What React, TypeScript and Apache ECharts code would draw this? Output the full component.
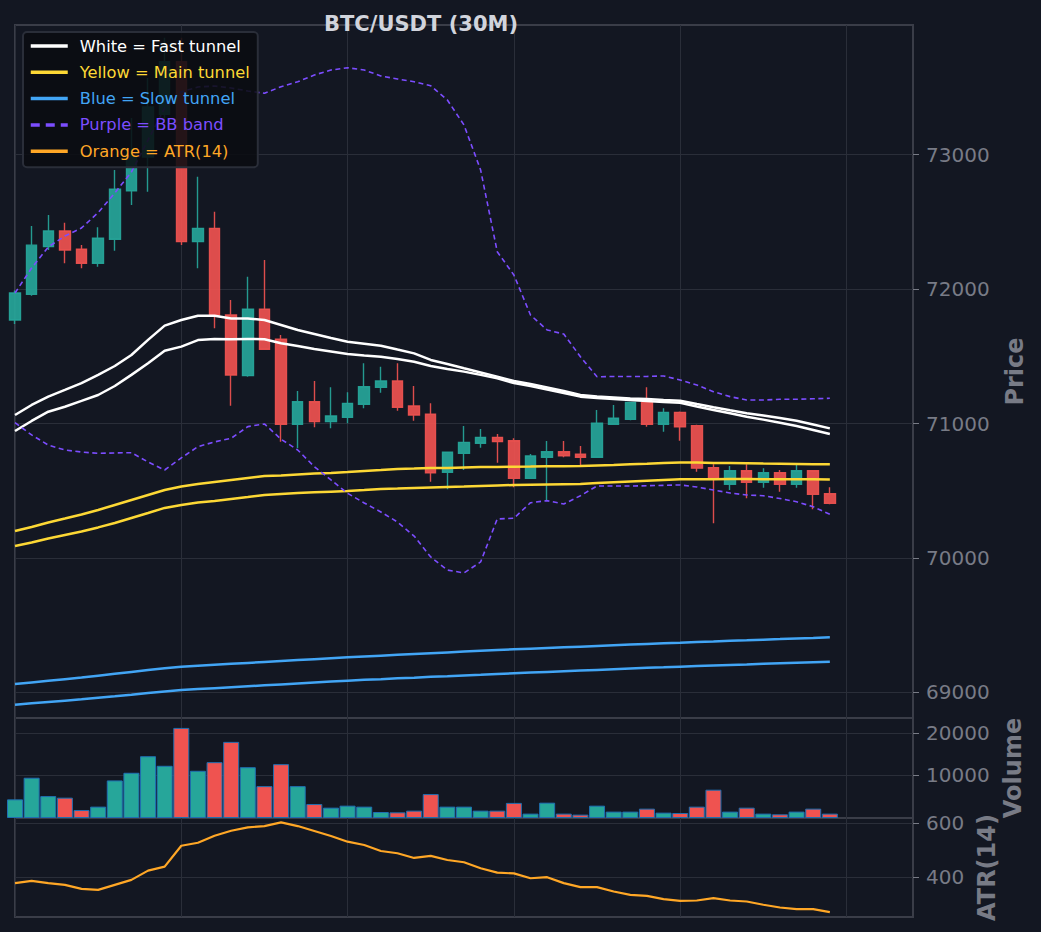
import { useEffect, useRef } from 'react';
import * as echarts from 'echarts';

// 30M candles, index 0..49 (five empty slots on the right)
const opens = [71770, 71961, 72316, 72432, 72296, 72192, 72371, 72732, 72983, 73300, 73692, 72353, 72452, 71807, 71356, 71850, 71627, 70994, 71162, 71014, 71046, 71143, 71269, 71316, 71130, 71069, 70637, 70778, 70853, 70897, 70872, 70592, 70749, 70790, 70771, 70749, 70994, 71031, 71157, 70994, 71083, 70984, 70672, 70548, 70649, 70563, 70634, 70548, 70649, 70478];
const closes = [71971, 72327, 72432, 72291, 72192, 72378, 72743, 72990, 73355, 73692, 72353, 72452, 71807, 71361, 71850, 71552, 70994, 71162, 71014, 71056, 71150, 71274, 71316, 71121, 71063, 70634, 70786, 70860, 70897, 70865, 70592, 70758, 70790, 70760, 70749, 71002, 71039, 71157, 70994, 71083, 70976, 70668, 70587, 70649, 70563, 70634, 70548, 70649, 70473, 70406];
const lows = [71740, 71950, 72291, 72192, 72155, 72167, 72286, 72626, 72725, 73250, 72328, 72155, 71708, 71133, 71348, 71547, 70865, 70816, 70972, 70964, 71002, 71113, 71229, 71095, 71021, 70567, 70511, 70654, 70820, 70709, 70525, 70590, 70426, 70749, 70692, 70745, 70990, 71025, 70976, 70939, 70872, 70642, 70258, 70505, 70444, 70522, 70493, 70522, 70362, 70400];
const highs = [71990, 72470, 72551, 72494, 72328, 72460, 72886, 73273, 73570, 73870, 73870, 72836, 72576, 71919, 72092, 72217, 71659, 71242, 71316, 71269, 71232, 71448, 71423, 71448, 71279, 71150, 70790, 70982, 70959, 70922, 70890, 70773, 70870, 70870, 70833, 71101, 71138, 71160, 71269, 71113, 71090, 70990, 70697, 70684, 70697, 70667, 70654, 70691, 70655, 70526];

const fastUpper = [71063, 71138, 71200, 71250, 71301, 71362, 71428, 71510, 71622, 71728, 71770, 71802, 71802, 71781, 71781, 71770, 71733, 71696, 71666, 71636, 71609, 71594, 71579, 71550, 71522, 71473, 71443, 71411, 71380, 71349, 71316, 71294, 71268, 71242, 71212, 71201, 71194, 71186, 71182, 71175, 71170, 71145, 71121, 71098, 71076, 71060, 71041, 71021, 70993, 70964];
const fastLower = [70944, 71019, 71088, 71125, 71168, 71212, 71279, 71362, 71448, 71542, 71572, 71621, 71629, 71627, 71629, 71627, 71597, 71577, 71554, 71536, 71517, 71506, 71497, 71480, 71460, 71428, 71406, 71386, 71362, 71336, 71301, 71279, 71253, 71227, 71200, 71190, 71183, 71175, 71168, 71160, 71155, 71127, 71101, 71076, 71051, 71029, 71006, 70982, 70952, 70922];
const mainUpper = [70200, 70230, 70264, 70293, 70323, 70357, 70394, 70431, 70468, 70505, 70531, 70550, 70565, 70580, 70595, 70610, 70613, 70621, 70628, 70632, 70639, 70647, 70654, 70662, 70665, 70669, 70669, 70673, 70676, 70676, 70679, 70680, 70682, 70682, 70684, 70688, 70691, 70697, 70701, 70706, 70710, 70710, 70706, 70706, 70704, 70702, 70701, 70699, 70697, 70697];
const mainLower = [70089, 70115, 70145, 70171, 70197, 70227, 70260, 70297, 70334, 70372, 70394, 70413, 70424, 70439, 70453, 70468, 70476, 70483, 70488, 70493, 70498, 70505, 70513, 70516, 70520, 70524, 70528, 70531, 70535, 70539, 70543, 70545, 70547, 70549, 70550, 70557, 70563, 70569, 70575, 70580, 70585, 70586, 70586, 70587, 70587, 70586, 70586, 70585, 70585, 70584];
const slowUpper = [69062, 69074, 69086, 69098, 69110, 69124, 69138, 69152, 69166, 69179, 69191, 69198, 69205, 69212, 69219, 69226, 69233, 69240, 69247, 69254, 69261, 69267, 69273, 69279, 69285, 69291, 69297, 69303, 69309, 69315, 69320, 69325, 69330, 69335, 69340, 69345, 69350, 69355, 69360, 69365, 69369, 69374, 69378, 69383, 69387, 69392, 69396, 69401, 69405, 69410];
const slowLower = [68908, 68918, 68928, 68938, 68948, 68960, 68970, 68982, 68995, 69007, 69017, 69024, 69031, 69038, 69045, 69052, 69059, 69066, 69073, 69080, 69087, 69093, 69098, 69104, 69109, 69115, 69120, 69126, 69131, 69137, 69142, 69147, 69152, 69157, 69162, 69167, 69172, 69177, 69182, 69186, 69191, 69195, 69199, 69203, 69207, 69212, 69216, 69220, 69224, 69228];
const bbUpper = [71971, 72157, 72313, 72395, 72455, 72569, 72715, 72871, 73109, 73347, 73467, 73504, 73511, 73496, 73474, 73457, 73506, 73543, 73593, 73630, 73647, 73630, 73586, 73563, 73543, 73513, 73407, 73221, 72886, 72278, 72105, 71807, 71696, 71666, 71497, 71348, 71350, 71350, 71350, 71354, 71324, 71287, 71237, 71200, 71175, 71175, 71180, 71180, 71184, 71188];
const bbLower = [71006, 70915, 70840, 70803, 70788, 70778, 70781, 70783, 70714, 70654, 70744, 70828, 70863, 70890, 70977, 70997, 70883, 70803, 70679, 70580, 70481, 70409, 70342, 70267, 70163, 70007, 69910, 69888, 69970, 70290, 70295, 70411, 70426, 70401, 70463, 70535, 70535, 70535, 70537, 70540, 70543, 70528, 70505, 70483, 70468, 70463, 70442, 70418, 70381, 70325];

const volumes = [4380, 9460, 5150, 4780, 1870, 2670, 8830, 10630, 14520, 12270, 21170, 11100, 13120, 17890, 11940, 7490, 12650, 7490, 3280, 2430, 2900, 2670, 1410, 1330, 1730, 5620, 2670, 2670, 1730, 1730, 3550, 1030, 3600, 1030, 800, 2900, 1500, 1500, 2200, 1260, 1170, 2670, 6650, 1500, 2430, 1030, 870, 1500, 2200, 1030];
const atr = [378, 386, 378, 371.5, 356.7, 353, 371.5, 390, 424.5, 439.3, 517, 528, 554, 572.6, 585, 590, 603.7, 590, 571.5, 553, 532, 519.6, 497.4, 488.9, 471.5, 479, 464, 455.5, 433.3, 417, 414, 396, 400, 377.8, 363, 363, 346.7, 334.4, 330.7, 318.5, 312.2, 313.3, 322, 313.3, 309.6, 297.4, 287.4, 281.4, 281.4, 270];

const priceTicks = [69000, 70000, 71000, 72000, 73000];
const volumeTicks = [10000, 20000];
const atrTicks = [400, 600];

const slotCount = 55;

const FONT = '"DejaVu Sans", sans-serif';
const UP = '#26a69a';
const DOWN = '#ef5350';
const GRID_LINE = '#2a2e39';
const SPINE = '#3a3d48';
const MUTED = '#787b86';

const LEGEND = [
  { name: 'White = Fast tunnel', color: '#ffffff' },
  { name: 'Yellow = Main tunnel', color: '#fdd835' },
  { name: 'Blue = Slow tunnel', color: '#42a5f5' },
  { name: 'Purple = BB band', color: '#7c4dff', dashed: true },
  { name: 'Orange = ATR(14)', color: '#ffa726' },
];

export default function App() {
  const chartRef = useRef<HTMLDivElement>(null);

  useEffect(() => {
    if (!chartRef.current) return;
    const chart = echarts.init(chartRef.current, undefined, { renderer: 'svg' });

    const slots = Array.from({ length: slotCount }, (_, i) => String(i));
    const candles = opens.map((o, i) => [o, closes[i], lows[i], highs[i]]);
    const volumeBars = volumes.map((v, i) => ({
      value: v,
      itemStyle: { color: closes[i] >= opens[i] ? UP : DOWN },
    }));

    const xAxis = (gridIndex: number) => ({
      type: 'category',
      gridIndex,
      data: slots,
      boundaryGap: false,
      axisLine: { show: false },
      axisTick: { show: false },
      axisLabel: { show: false },
      splitLine: {
        show: true,
        interval: (index: number) => index % 10 === 0,
        lineStyle: { color: GRID_LINE, width: 1 },
      },
    });

    const yAxis = (
      gridIndex: number,
      min: number,
      max: number,
      ticks: number[],
      name: string,
      nameGap: number,
    ) => ({
      type: 'value',
      gridIndex,
      position: 'right',
      min,
      max,
      axisLine: { show: false },
      axisTick: { show: true, length: 6, lineStyle: { color: MUTED }, customValues: ticks },
      axisLabel: {
        color: MUTED,
        fontSize: 20,
        fontFamily: FONT,
        margin: 13,
        customValues: ticks,
        formatter: (v: number) => String(v),
      },
      splitLine: { show: true, lineStyle: { color: GRID_LINE, width: 1 } },
      name,
      nameLocation: 'middle',
      nameRotate: 90,
      nameGap,
      nameTextStyle: { color: MUTED, fontSize: 24, fontWeight: 'bold', fontFamily: FONT },
    });

    const band = (name: string, data: number[], color: string, width: number, dashed = false) => ({
      type: 'line',
      name,
      data,
      xAxisIndex: 0,
      yAxisIndex: 0,
      symbol: 'none',
      showSymbol: false,
      lineStyle: { color, width, type: dashed ? [5, 3.5] : 'solid' },
      itemStyle: { color },
      z: 3,
    });

    const gridBox = { left: 15, width: 898, show: true, borderColor: SPINE, borderWidth: 2, backgroundColor: 'transparent' };

    const option = {
      animation: false,
      backgroundColor: '#131722',
      textStyle: { fontFamily: FONT },
      grid: [
        { ...gridBox, top: 25, height: 693 },
        { ...gridBox, top: 718, height: 100 },
        { ...gridBox, top: 818, height: 99 },
      ],
      xAxis: [xAxis(0), xAxis(1), xAxis(2)],
      yAxis: [
        yAxis(0, 68809, 73965, priceTicks, 'Price', 90),
        yAxis(1, 0, 23500, volumeTicks, 'Volume', 85),
        yAxis(2, 252, 620, atrTicks, 'ATR(14)', 62),
      ],
      legend: {
        orient: 'vertical',
        left: 23,
        top: 32,
        padding: [6, 8, 8, 6],
        itemWidth: 37,
        itemHeight: 16,
        itemGap: 10.3,
        backgroundColor: 'rgba(10,12,17,0.88)',
        borderColor: GRID_LINE,
        borderWidth: 2,
        borderRadius: 4,
        itemStyle: { opacity: 0 },
        lineStyle: { width: 3.5 },
        textStyle: { fontSize: 16.3, fontFamily: FONT, lineHeight: 16, padding: [0, 0, 0, 7] },
        data: LEGEND.map((l) => ({
          name: l.name,
          textStyle: { color: l.color },
          ...(l.dashed ? { lineStyle: { width: 3.5, type: [9, 6] } } : {}),
        })),
      },
      graphic: [
        {
          type: 'text',
          x: 421,
          y: 24,
          z: 20,
          style: {
            text: 'BTC/USDT (30M)',
            fill: '#d1d4dc',
            fontSize: 21,
            fontWeight: 'bold',
            fontFamily: FONT,
            align: 'center',
            verticalAlign: 'middle',
          },
        },
      ],
      series: [
        {
          type: 'candlestick',
          name: 'BTC/USDT',
          xAxisIndex: 0,
          yAxisIndex: 0,
          data: candles,
          barWidth: 11,
          clip: true,
          itemStyle: {
            color: UP,
            color0: DOWN,
            borderColor: UP,
            borderColor0: DOWN,
            borderWidth: 1.4,
            opacity: 0.92,
          },
          z: 2,
        },
        band(LEGEND[0].name, fastUpper, '#ffffff', 2.5),
        band(LEGEND[0].name, fastLower, '#ffffff', 2.5),
        band(LEGEND[1].name, mainUpper, '#fdd835', 2.5),
        band(LEGEND[1].name, mainLower, '#fdd835', 2.5),
        band(LEGEND[2].name, slowUpper, '#42a5f5', 2.5),
        band(LEGEND[2].name, slowLower, '#42a5f5', 2.5),
        band(LEGEND[3].name, bbUpper, '#7c4dff', 1.6, true),
        band(LEGEND[3].name, bbLower, '#7c4dff', 1.6, true),
        {
          type: 'bar',
          name: 'Volume',
          xAxisIndex: 1,
          yAxisIndex: 1,
          data: volumeBars,
          barWidth: 16,
          clip: true,
          itemStyle: { borderColor: '#1f6fb2', borderWidth: 1 },
        },
        {
          type: 'line',
          name: LEGEND[4].name,
          xAxisIndex: 2,
          yAxisIndex: 2,
          data: atr,
          symbol: 'none',
          showSymbol: false,
          lineStyle: { color: '#ffa726', width: 2.2 },
          itemStyle: { color: '#ffa726' },
        },
      ],
    };

    chart.setOption(option as any);
    return () => {
      chart.dispose();
    };
  }, []);

  return (
    <div
      ref={chartRef}
      style={{ position: 'fixed', left: 0, top: 0, width: 1041, height: 932 }}
    />
  );
}
